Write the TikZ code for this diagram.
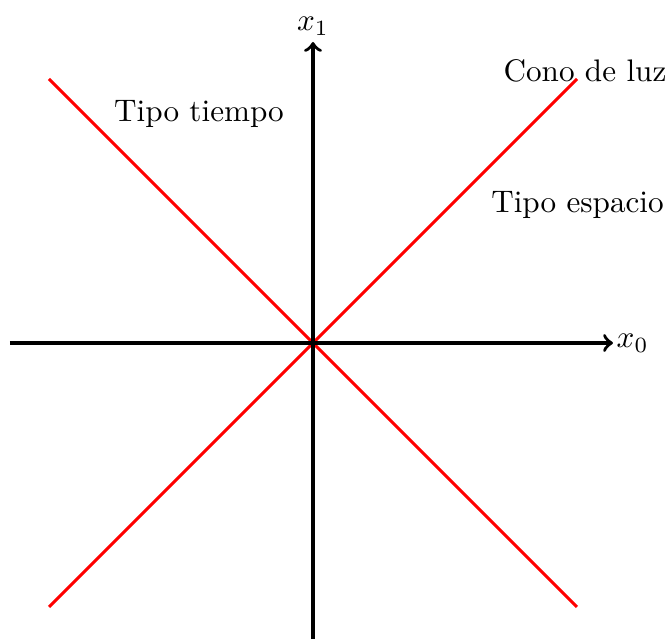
\documentclass[tikz,border=0pt]{standalone}
\begin{document}
\begin{tikzpicture}[x=0.321pt,y=-0.321pt,
  axis/.style={line width=1.1pt,->},
  cone/.style={line width=1pt,red},
  lbl/.style={anchor=base,inner sep=0pt}]
\useasboundingbox (0,0) rectangle (667,639);
\coordinate (O) at (313,343);
\coordinate (xl) at (10,343);
\coordinate (xr) at (613,343);
\coordinate (yb) at (313,639);
\coordinate (yt) at (313,42);
\coordinate (a1) at (49,79);
\coordinate (a2) at (577,607);
\coordinate (b1) at (49,607);
\coordinate (b2) at (577,79);
\draw[cone] (a1) -- (a2);
\draw[cone] (b1) -- (b2);
\draw[axis] (xl) -- (xr);
\draw[axis] (yb) -- (yt);
\node[anchor=west,inner sep=1pt] (x0) at (xr) {$x_0$};
\node[anchor=south,inner sep=2pt] (x1) at (yt) {$x_1$};
\node[lbl] (cono) at (585,82) {Cono de luz};
\node[lbl] (tt) at (199,122) {Tipo tiempo};
\node[lbl] (te) at (577.5,213) {Tipo espacio};
\end{tikzpicture}
\end{document}
